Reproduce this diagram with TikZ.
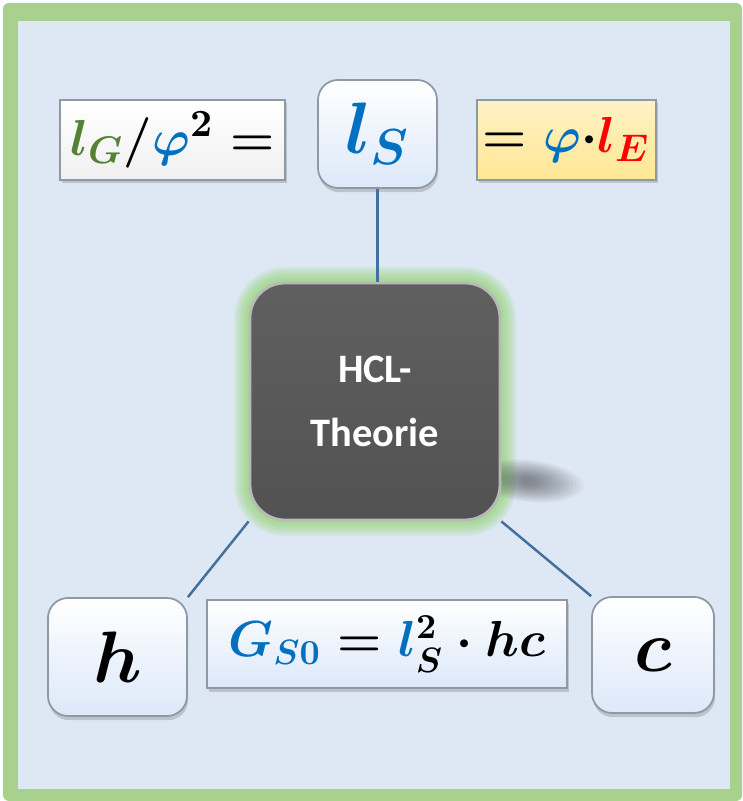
\documentclass[tikz,border=0pt]{standalone}
\usepackage{amsmath,amssymb}
\usepackage{fontspec}
\newfontfamily\carlito{Carlito}
\usepackage{tikz}
\usetikzlibrary{shadows}
\definecolor{FrameGreen}{HTML}{A9D18E}
\definecolor{PanelBlue}{HTML}{DEE8F4}
\definecolor{KeyBlue}{HTML}{DCE8F9}
\definecolor{KeyEdge}{HTML}{8E98A6}
\definecolor{CoreGray}{HTML}{595959}
\definecolor{GlowGreen}{HTML}{8FD36A}
\definecolor{LinkBlue}{HTML}{41719C}
\definecolor{FormBlue}{HTML}{0070C0}
\definecolor{FormGreen}{HTML}{548235}
\definecolor{FormRed}{HTML}{FF0000}
\definecolor{GoldFill}{HTML}{FFE795}

\begin{document}
\begin{tikzpicture}[
    keybox/.style={draw=KeyEdge, line width=0.5pt, rounded corners=0.2cm, top color=white, bottom color=KeyBlue, inner sep=0pt,
      drop shadow={opacity=0.35, shadow xshift=0.3pt, shadow yshift=-1.2pt}},
    platebox/.style={draw=KeyEdge, line width=0.6pt, inner sep=0pt,
      drop shadow={opacity=0.35, shadow xshift=0.5pt, shadow yshift=-1pt}},
    link/.style={draw=LinkBlue, line width=0.7pt}
  ]
  % Frame
  \useasboundingbox (0,0) rectangle (7.42,8.01);
  \fill[FrameGreen, rounded corners=0.06cm] (0.03,0) rectangle (7.42,7.98);
  \fill[PanelBlue] (0.18,0.12) rectangle (7.30,7.80);

  % Glow and shadow of the core box
  \foreach \g in {0.02,0.04,...,0.16}
    \fill[GlowGreen, opacity=0.13, rounded corners={0.35cm+\g cm}] ({2.50-\g},{2.81-\g}) rectangle ({5.00+\g},{5.18+\g});
  \foreach \s in {0,1,...,14}
    \fill[black, opacity=0.03, rotate around={-6:(5.28,3.2)}] (5.28,3.2) ellipse ({0.56-0.035*\s} and {0.21-0.012*\s});

  % Core
  \node[draw=gray!55, line width=0.8pt, rounded corners=0.35cm, top color=CoreGray!96!white, bottom color=CoreGray!92!black,
    minimum width=2.50cm, minimum height=2.37cm, align=center, text=white,
    font=\carlito\bfseries\fontsize{11.5}{18}\selectfont] (hcl) at (3.75,3.995) {HCL-\\Theorie};

  % Top row
  \node[platebox, top color=white, bottom color=gray!12, minimum width=2.25cm, minimum height=0.80cm,
    font=\boldmath\fontsize{15.5}{18}\selectfont] (lg) at (1.725,6.61)
    {${\color{FormGreen}l_{G}}/{\color{FormBlue}\varphi}^{2}=$};
  \node[keybox, minimum width=1.19cm, minimum height=1.08cm,
    font=\boldmath\fontsize{21}{24}\selectfont] (ls) at (3.775,6.67)
    {$\color{FormBlue}l_{S}$};
  \node[platebox, top color=GoldFill!55!white, bottom color=GoldFill, minimum width=1.79cm, minimum height=0.80cm,
    font=\boldmath\fontsize{15}{18}\selectfont] (le) at (5.665,6.61)
    {$={\color{FormBlue}\varphi}{\cdot}{\color{FormRed}l_{E}}$};

  % Bottom row
  \node[keybox, minimum width=1.39cm, minimum height=1.18cm,
    font=\boldmath\fontsize{20}{24}\selectfont] (h) at (1.175,1.44) {$h$};
  \node[platebox, top color=white, bottom color=KeyBlue, minimum width=3.60cm, minimum height=0.88cm,
    font=\boldmath\fontsize{14.5}{18}\selectfont] (gs) at (3.87,1.57)
    {${\color{FormBlue}G_{S0}}={\color{FormBlue}l_{S}^{\color{black}2}}\cdot hc$};
  \node[keybox, minimum width=1.22cm, minimum height=1.16cm,
    font=\boldmath\fontsize{20}{24}\selectfont] (c) at (6.53,1.46) {$c$};

  % Connectors
  \draw[link] (ls.south) -- (ls.south |- hcl.north);
  \draw[link] (hcl.south west) -- (h.north east);
  \draw[link] (hcl.south east) -- (c.north west);
\end{tikzpicture}
\end{document}
